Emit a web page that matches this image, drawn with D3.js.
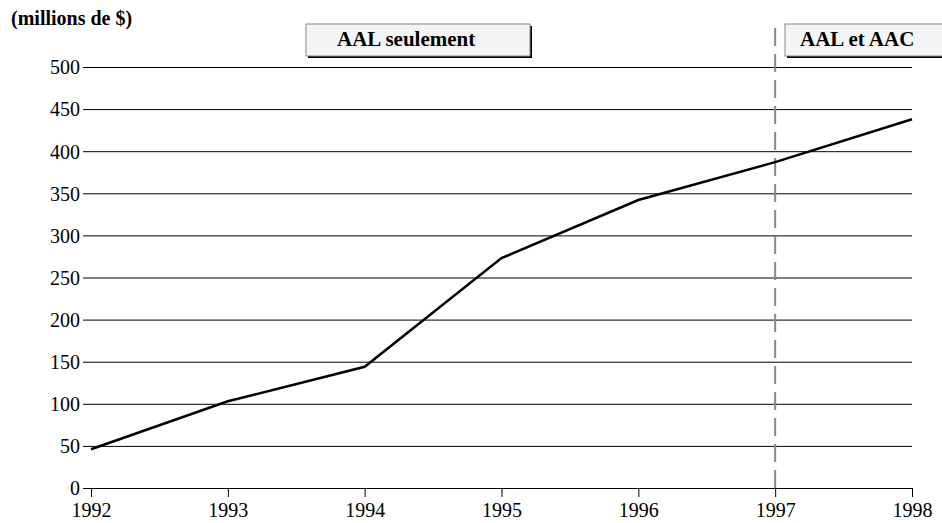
<!DOCTYPE html>
<html>
<head>
<meta charset="utf-8">
<script src="https://d3js.org/d3.v7.min.js"></script>
<style>
  body { margin: 0; background: #fff; }
  svg text { font-family: "Liberation Serif", "Times New Roman", Times, serif; }
</style>
</head>
<body>
<svg width="942" height="523"></svg>
<script>
// data
let years = [1992, 1993, 1994, 1995, 1996, 1997, 1998];
let values = [46, 103, 144, 273, 342, 387, 438];
let yTicks = [0, 50, 100, 150, 200, 250, 300, 350, 400, 450, 500];
let unitLabel = "(millions de $)";
let periodLabels = ["AAL seulement", "AAL et AAC"];
let splitYear = 1997;

let serif = "'Liberation Serif', 'Times New Roman', Times, serif";

let svg = d3.select("svg"),
    mLeft = 91, mRight = 912, mTop = 67, mBottom = 488;

let x = d3.scaleLinear().domain([1992, 1998]).range([mLeft, mRight]);
let y = d3.scaleLinear().domain([0, 500]).range([mBottom, mTop]);

// horizontal grid / y axis
let yAxis = d3.axisLeft(y).tickValues(yTicks).tickSize(8).tickSizeOuter(0).tickPadding(3);
let gy = svg.append("g").attr("transform", "translate(" + mLeft + ",0)").call(yAxis)
    .attr("font-family", serif);
gy.select(".domain").remove();
gy.selectAll(".tick line").attr("x2", mRight - mLeft).attr("x1", -8).attr("stroke", "#000").attr("stroke-width", 1);
gy.selectAll(".tick text").attr("font-size", 20).attr("fill", "#000").attr("dy", "0.34em");

// x axis ticks below the baseline
let xAxis = d3.axisBottom(x).tickValues(years).tickFormat(d3.format("d")).tickSize(9).tickPadding(6);
let gx = svg.append("g").attr("transform", "translate(0," + mBottom + ")").call(xAxis)
    .attr("font-family", serif);
gx.select(".domain").remove();
gx.selectAll(".tick line").attr("stroke", "#000");
gx.selectAll(".tick text").attr("font-size", 20).attr("fill", "#000");

// dashed separator
svg.append("line")
    .attr("x1", x(splitYear)).attr("x2", x(splitYear))
    .attr("y1", 28).attr("y2", mBottom)
    .attr("stroke", "#888").attr("stroke-width", 2)
    .attr("stroke-dasharray", "18,8");

// the series line
let line = d3.line().x(function(d, i) { return x(years[i]); }).y(function(d) { return y(d); });
svg.append("path")
    .datum(values)
    .attr("fill", "none")
    .attr("stroke", "#000")
    .attr("stroke-width", 2.5)
    .attr("d", line);

// unit label
svg.append("text")
    .attr("x", 11).attr("y", 25)
    .attr("font-family", serif)
    .attr("font-size", 20).attr("font-weight", "bold")
    .text(unitLabel);

// period boxes
let boxes = [
  { x0: 306, x1: 530, tx: 337, label: periodLabels[0] },
  { x0: 785, x1: 950, tx: 800, label: periodLabels[1] }
];
boxes.forEach(function(b) {
  let g = svg.append("g");
  g.append("rect")
      .attr("x", b.x0 + 2).attr("y", 26)
      .attr("width", b.x1 - b.x0).attr("height", 32)
      .attr("fill", "#000");
  g.append("rect")
      .attr("x", b.x0).attr("y", 24)
      .attr("width", b.x1 - b.x0).attr("height", 32)
      .attr("fill", "#f5f5f5").attr("stroke", "#888").attr("stroke-width", 1);
  g.append("text")
      .attr("x", b.tx).attr("y", 46)
      .attr("font-family", serif)
      .attr("font-size", 21).attr("font-weight", "bold")
      .text(b.label);
});
</script>
</body>
</html>
